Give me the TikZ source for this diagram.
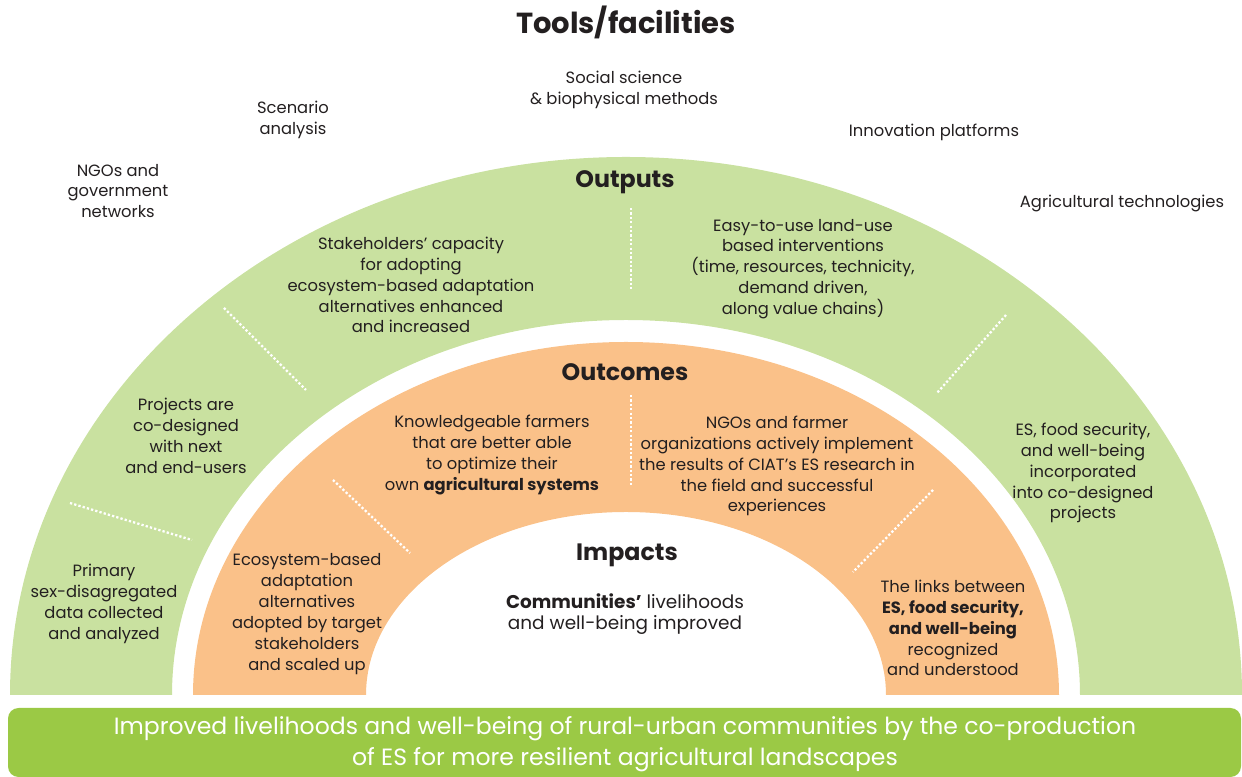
\documentclass[tikz,border=0pt]{standalone}
\usepackage{fontspec}
\setmainfont{Poppins}
\usetikzlibrary{positioning}

\definecolor{bandgreen}{HTML}{C9E1A0}
\definecolor{bandorange}{HTML}{FAC189}
\definecolor{bargreen}{HTML}{9BC945}
\definecolor{ink}{HTML}{231F20}

\begin{document}
\begin{tikzpicture}[
    x = 0.02cm, y = 0.02cm,
    txt/.style = {text = ink, align = center, inner sep = 0pt, font = \fontsize{9.3}{11.9}\selectfont},
    bigtxt/.style = {text = ink, align = center, inner sep = 0pt, font = \fontsize{10.5}{11.9}\selectfont},
    head/.style = {text = ink, align = center, inner sep = 0pt, font = \fontsize{13.5}{15}\selectfont\bfseries},
    title/.style = {text = ink, inner sep = 0pt, font = \fontsize{16.5}{19}\selectfont\bfseries},
    bartxt/.style = {text = white, align = center, inner sep = 0pt, font = \fontsize{13.4}{17.6}\selectfont},
    dotsep/.style = {white, line width = 1.3pt, dash pattern = on 1.3pt off 1.2pt},
    ]
    \useasboundingbox (0, 0) rectangle (1242, 777);

    % bands
    \fill[bandgreen] (10, 82) arc[start angle = 180, end angle = 0, x radius = 616, y radius = 538]
        -- (1080, 82) arc[start angle = 0, end angle = 180, x radius = 454, y radius = 375] -- cycle;
    \fill[bandorange] (193, 82) arc[start angle = 180, end angle = 0, x radius = 433, y radius = 353]
        -- (886, 82) arc[start angle = 0, end angle = 180, x radius = 260, y radius = 183] -- cycle;
    \fill[bargreen, rounded corners = 6] (8, 0) rectangle (1241, 69);

    % separators
    \draw[dotsep] (70, 274) -- (192, 237);
    \draw[dotsep] (224, 469) -- (306, 387);
    \draw[dotsep] (631, 569) -- (631, 487);
    \draw[dotsep] (1006, 462) -- (937, 384);
    \draw[dotsep] (333, 297) -- (410, 224);
    \draw[dotsep] (631, 382) -- (631, 290);
    \draw[dotsep] (933, 287) -- (853, 205);

    % tools
    \node[title] (tools) at (626, 755) {Tools/facilities};
    \node[txt] (social) at (624, 687) {Social science\\\& biophysical methods};
    \node[txt] (scen) at (293, 657) {Scenario\\analysis};
    \node[txt] (ngonet) at (118, 586) {NGOs and\\government\\networks};
    \node[txt] (innov) at (934, 645) {Innovation platforms};
    \node[txt] (agtech) at (1122, 574) {Agricultural technologies};

    % outputs
    \node[head] (outputs) at (625, 595) {Outputs};
    \node[txt] (stake) at (411, 492) {Stakeholders’ capacity\\for adopting\\ecosystem-based adaptation\\alternatives enhanced\\and increased};
    \node[txt] (easy) at (803, 508) {Easy-to-use land-use\\based interventions\\(time, resources, technicity,\\demand driven,\\along value chains)};
    \node[txt] (codes) at (186, 341) {Projects are\\co-designed\\with next\\and end-users};
    \node[txt] (prim) at (104, 173) {Primary\\sex-disagregated\\data collected\\and analyzed};
    \node[txt] (incorp) at (1083, 304) {ES, food security,\\and well-being\\incorporated\\into co-designed\\projects};

    % outcomes
    \node[head] (outcomes) at (625, 405) {Outcomes};
    \node[txt] (farm) at (492, 322) {Knowledgeable farmers\\that are better able\\to optimize their\\own \textbf{agricultural systems}};
    \node[txt] (impl) at (777, 311) {NGOs and farmer\\organizations actively implement\\the results of CIAT’s ES research in\\the field and successful\\experiences};
    \node[txt] (adopt) at (307, 163) {Ecosystem-based\\adaptation\\alternatives\\adopted by target\\stakeholders\\and scaled up};
    \node[txt] (links) at (953, 149) {The links between\\\textbf{ES, food security,}\\\textbf{and well-being}\\recognized\\and understood};

    % impacts
    \node[head] (impacts) at (627, 222) {Impacts};
    \node[bigtxt] (comm) at (625, 163) {\textbf{Communities’} livelihoods\\and well-being improved};

    \node[bartxt] (goal) at (625, 33) {Improved livelihoods and well-being of rural-urban communities by the co-production\\of ES for more resilient agricultural landscapes};
\end{tikzpicture}
\end{document}
